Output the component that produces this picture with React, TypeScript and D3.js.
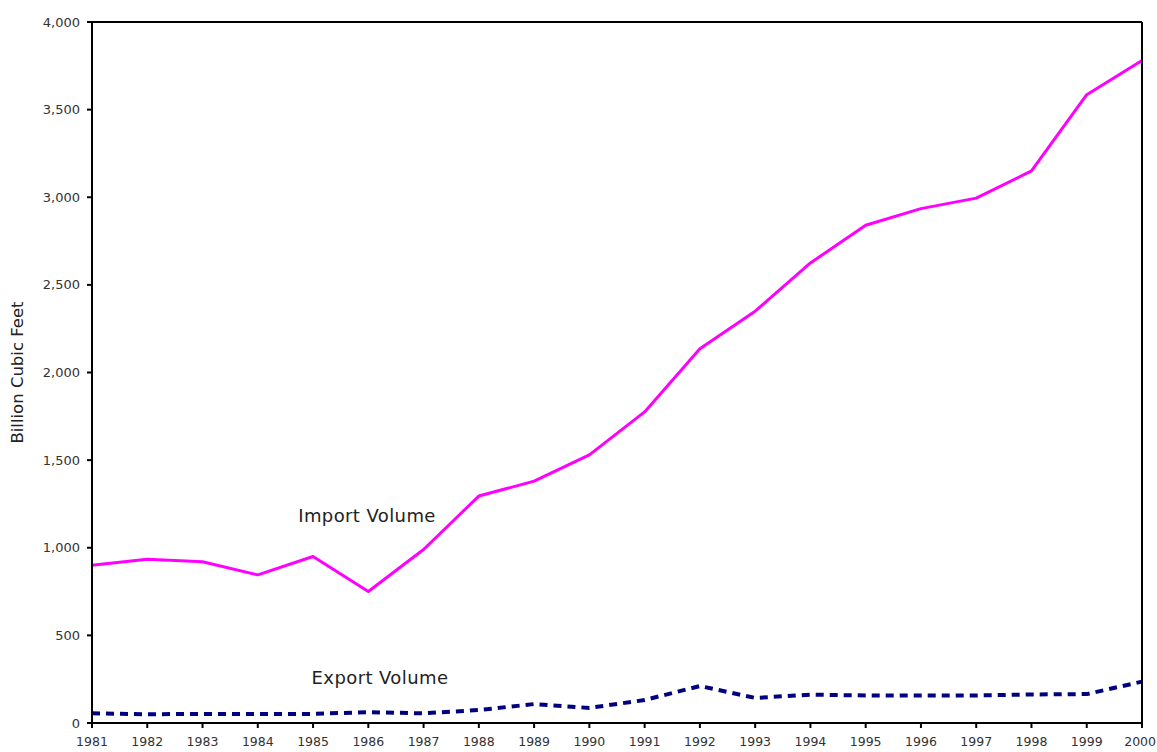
import React from "react";
import * as d3 from "d3";

const years = [1981,1982,1983,1984,1985,1986,1987,1988,1989,1990,1991,1992,1993,1994,1995,1996,1997,1998,1999,2000];
const importVolume = [900,935,920,845,950,750,990,1295,1380,1530,1775,2135,2350,2625,2840,2935,2995,3150,3585,3780];
const exportVolume = [55,50,52,52,52,62,55,74,108,86,131,211,143,162,157,157,157,163,165,236];
const yTicks = [0,500,1000,1500,2000,2500,3000,3500,4000];

const W = 1157, H = 752;
const L = 92, R = 1142, T = 22, B = 723;
const FONT = "'Century Gothic', 'URW Gothic', 'DejaVu Sans', sans-serif";

export default function App() {
  const x = d3.scaleLinear().domain([1981, 2000]).range([L, R]);
  const y = d3.scaleLinear().domain([0, 4000]).range([B, T]);
  const line = d3.line<[number, number]>().x(d => x(d[0])).y(d => y(d[1]));
  const imp = line(years.map((yr, i) => [yr, importVolume[i]]))!;
  const exp = line(years.map((yr, i) => [yr, exportVolume[i]]))!;
  const fmt = d3.format(",");
  return (
    <svg width={W} height={H} style={{ position: "absolute", left: 0, top: 0, background: "#fff" }} fontFamily={FONT}>
      <rect x={0} y={0} width={W} height={H} fill="#fff" />
      <path d={imp} fill="none" stroke="#ff00ff" strokeWidth={3} strokeLinejoin="round" />
      <path d={exp} fill="none" stroke="#000080" strokeWidth={4} strokeDasharray="8 6" />
      <line x1={L} x2={R} y1={T} y2={T} stroke="#000" strokeWidth={2} />
      <line x1={R} x2={R} y1={T} y2={B} stroke="#000" strokeWidth={2} />
      <line x1={L} x2={L} y1={T - 1} y2={B + 1} stroke="#000" strokeWidth={2} />
      <line x1={L - 1} x2={R + 1} y1={B} y2={B} stroke="#000" strokeWidth={2} />
      {yTicks.map(t => (
        <g key={t}>
          <line x1={L - 5} x2={L} y1={y(t)} y2={y(t)} stroke="#000" strokeWidth={2} />
          <text x={L - 12} y={y(t)} dy="0.35em" textAnchor="end" fontSize={13} fill="#333">{fmt(t)}</text>
        </g>
      ))}
      {years.map((yr, i) => (
        <g key={yr}>
          <line x1={x(yr)} x2={x(yr)} y1={B} y2={B + 5} stroke="#000" strokeWidth={2} />
          <text x={i === years.length - 1 ? W - 1 : x(yr)} y={746} textAnchor={i === years.length - 1 ? "end" : "middle"} fontSize={12.5} fill="#333">{yr}</text>
        </g>
      ))}
      <text transform={`translate(23, ${(T + B) / 2}) rotate(-90)`} textAnchor="middle" fontSize={16.5} fill="#222">Billion Cubic Feet</text>
      <text x={367} y={522} textAnchor="middle" fontSize={18} letterSpacing={0.4} fill="#222">Import Volume</text>
      <text x={380} y={684} textAnchor="middle" fontSize={18} letterSpacing={0.4} fill="#222">Export Volume</text>
    </svg>
  );
}
